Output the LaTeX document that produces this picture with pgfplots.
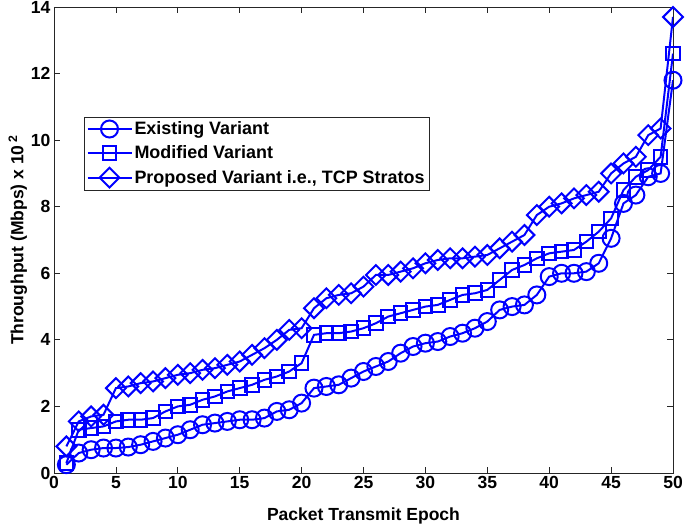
\documentclass[border=0pt]{standalone}
\usepackage{pgfplots}
\pgfplotsset{compat=1.18}
\usepackage{fontspec}
\setmainfont{Liberation Sans}

\pgfplotstableread{
x existing modified proposed
1 0.25 0.30 0.80
2 0.60 1.30 1.55
3 0.70 1.35 1.70
4 0.75 1.40 1.75
5 0.75 1.55 2.55
6 0.78 1.60 2.60
7 0.85 1.60 2.70
8 0.95 1.65 2.75
9 1.05 1.85 2.85
10 1.15 2.00 2.95
11 1.30 2.05 3.00
12 1.45 2.20 3.10
13 1.50 2.30 3.15
14 1.55 2.45 3.25
15 1.60 2.55 3.35
16 1.60 2.65 3.55
17 1.65 2.80 3.75
18 1.85 2.90 4.00
19 1.90 3.05 4.30
20 2.10 3.30 4.35
21 2.55 4.15 4.95
22 2.60 4.20 5.25
23 2.65 4.20 5.35
24 2.85 4.25 5.40
25 3.05 4.35 5.60
26 3.20 4.50 5.95
27 3.35 4.70 5.95
28 3.60 4.80 6.05
29 3.80 4.90 6.15
30 3.90 5.00 6.30
31 3.95 5.05 6.40
32 4.10 5.20 6.45
33 4.20 5.35 6.45
34 4.35 5.40 6.50
35 4.55 5.50 6.55
36 4.90 5.80 6.75
37 5.00 6.10 6.95
38 5.05 6.25 7.15
39 5.35 6.45 7.75
40 5.90 6.60 8.00
41 6.00 6.65 8.10
42 6.00 6.70 8.25
43 6.05 6.95 8.35
44 6.30 7.25 8.45
45 7.05 7.65 9.00
46 8.10 8.50 9.30
47 8.35 8.90 9.50
48 8.90 9.10 10.15
49 9.00 9.50 10.35
50 11.80 12.60 13.70
}\datatable

\definecolor{axgray}{gray}{0.15}

\begin{document}
\begin{tikzpicture}
\begin{axis}[
  width=619bp, height=466bp, scale only axis,
  xmin=0, xmax=50, ymin=0, ymax=14,
  xtick={0,5,...,50}, ytick={0,2,...,14},
  tick align=inside, major tick length=6bp,
  axis line style={axgray, line width=0.8bp},
  every tick/.style={axgray, line width=0.8bp},
  font=\fontsize{17.6}{20}\selectfont\bfseries,
  tick label style={font=\fontsize{17.6}{20}\selectfont\bfseries},
  /pgf/number format/assume math mode=true,
  xlabel={Packet Transmit Epoch},
  ylabel={Throughput (Mbps) x 10\,\textsuperscript{2}},
  xlabel style={yshift=-12bp},
  ylabel style={yshift=-3bp},
  legend cell align=left,
  legend style={at={(0.048,0.764)}, anchor=north west, draw=axgray, line width=0.6bp,
    font=\fontsize{18}{21}\selectfont\bfseries, row sep=5.5bp, inner sep=2.5bp},
  legend image code/.code={%
    \draw[mark repeat=2, mark phase=2] plot coordinates {(0bp,0bp) (22bp,0bp) (44bp,0bp)};},
]
\addplot[blue, line width=2bp, mark=o, mark size=8.5bp, mark options={solid}] table[x=x, y=existing] {\datatable};
\addlegendentry{Existing Variant}
\addplot[blue, line width=2bp, mark=square, mark size=6.8bp, mark options={solid}] table[x=x, y=modified] {\datatable};
\addlegendentry{Modified Variant}
\addplot[blue, line width=2bp, mark=square, mark size=7bp, mark options={solid, rotate=45}] table[x=x, y=proposed] {\datatable};
\addlegendentry{Proposed Variant i.e., TCP Stratos}
\end{axis}
\pgfresetboundingbox
\path ([xshift=-54bp,yshift=-54bp]current axis.south west) rectangle ([xshift=12bp,yshift=7bp]current axis.north east);
\end{tikzpicture}
\end{document}
